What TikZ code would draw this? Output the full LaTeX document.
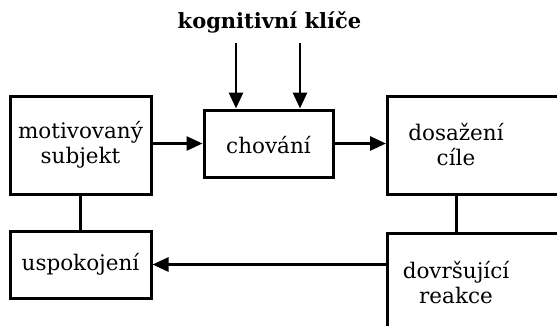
\documentclass[tikz,border=0pt]{standalone}
\usepackage{fontspec}
\setmainfont{DejaVu Serif}
\usetikzlibrary{arrows.meta}
\tikzset{
  box/.style={draw, line width=3pt, inner sep=0pt},
  lbl/.style={align=center, inner sep=0pt, font=\fontsize{21.5}{25}\selectfont},
  conn/.style={line width=3pt},
  arr/.style={line width=2.8pt, -{Triangle[length=16pt,width=14pt]}},
}
\begin{document}
\begin{tikzpicture}[x=1pt,y=-1pt]
\useasboundingbox (0,0) rectangle (557,325);
\clip (0,0) rectangle (557,325);
% title
\node[inner sep=0pt, font=\fontsize{21}{25}\selectfont\bfseries] (title) at (269.5,22) {kognitivní klíče};
% boxes
\node[box, minimum width=141, minimum height=98] (mot) at (80.5,145) {};
\node[lbl] (mott) at (80.5,145) {motivovaný\\subjekt};
\node[box, minimum width=129, minimum height=67] (chov) at (268.5,143.5) {};
\node[lbl] (chovt) at (268.5,145) {chování};
\node[box, minimum width=190, minimum height=98, anchor=west] (dos) at (386,145) {};
\node[lbl] (dost) at (456,145) {dosažení\\cíle};
\node[box, minimum width=141, minimum height=67] (usp) at (80.5,264.5) {};
\node[lbl] (uspt) at (80.5,264.5) {uspokojení};
\node[box, minimum width=190, minimum height=120, anchor=north west] (dov) at (386,232) {};
\node[lbl] (dovt) at (456,283) {dovršující\\reakce};
% cue arrows
\coordinate (c1) at (236,43);
\coordinate (c2) at (300,43);
\draw[arr] (c1) -- (c1 |- chov.north);
\draw[arr] (c2) -- (c2 |- chov.north);
% connectors
\draw[arr] (mot.east |- chov) -- (chov.west);
\draw[arr] (chov.east) -- (dos.west |- chov);
\draw[conn] (mot.south) -- (usp.north);
\draw[conn] (dos.south -| dost) -- (dov.north -| dost);
\draw[arr] (dov.west |- usp) -- (usp.east);
\end{tikzpicture}
\end{document}
